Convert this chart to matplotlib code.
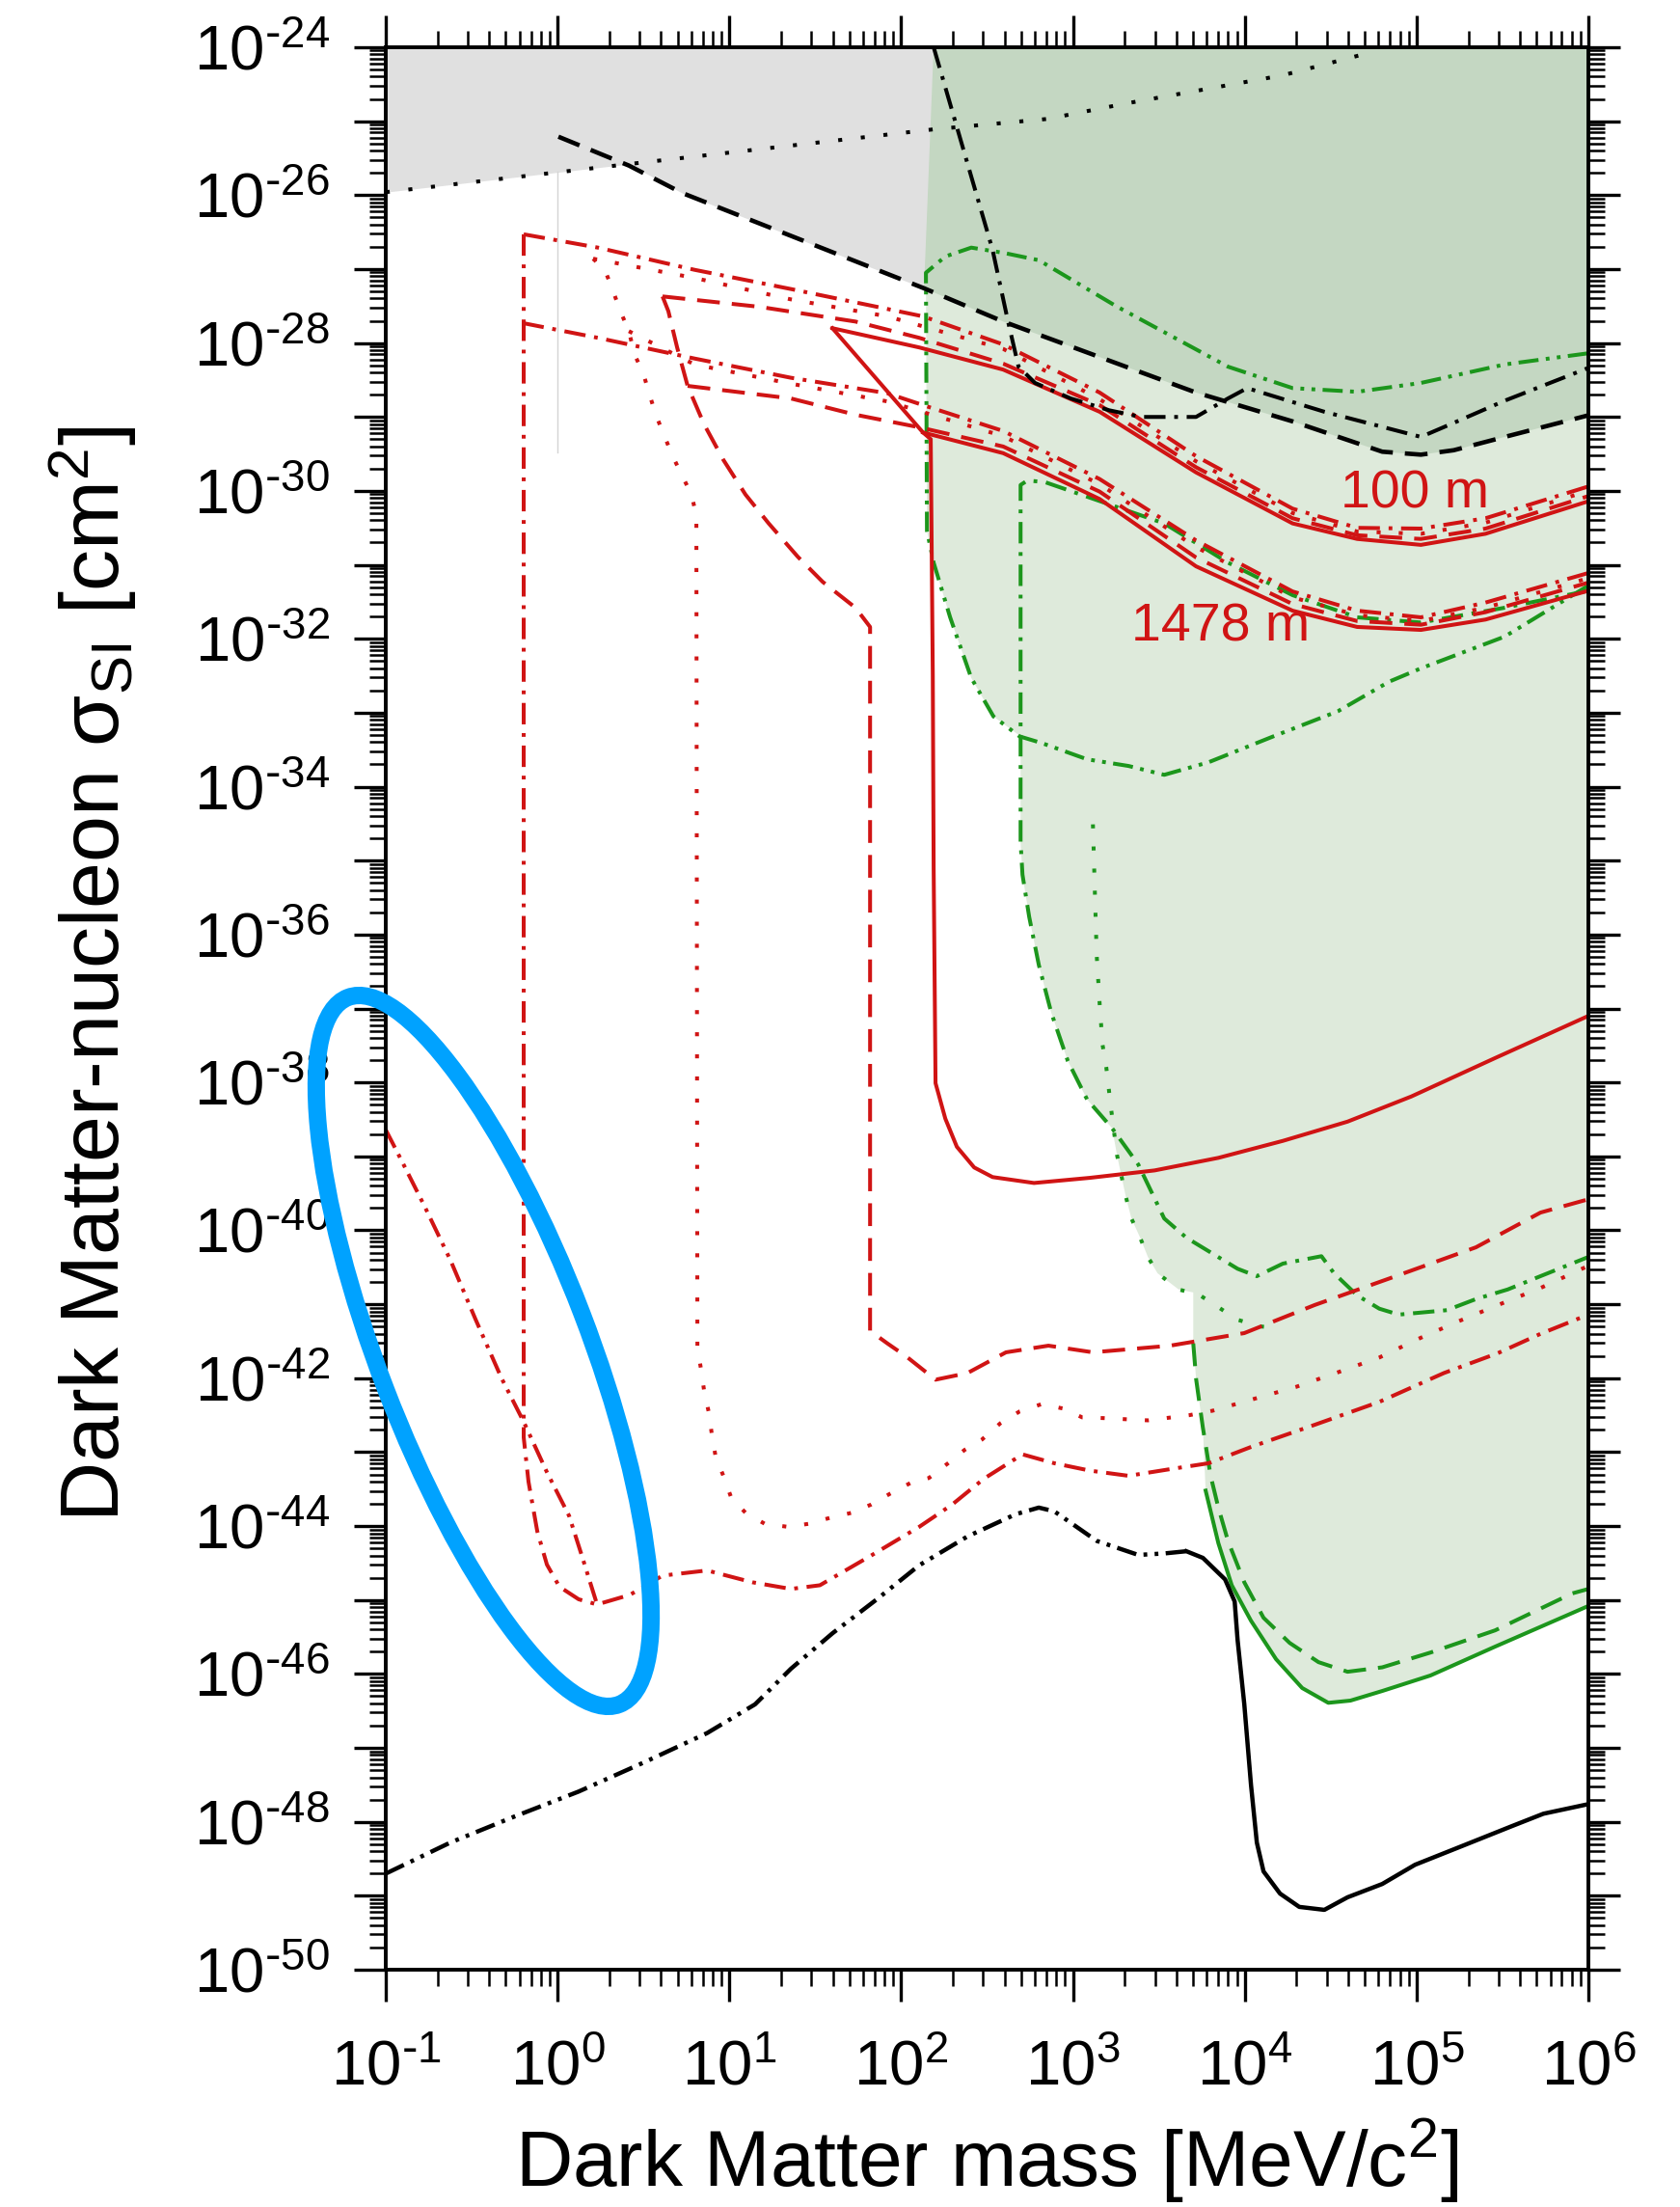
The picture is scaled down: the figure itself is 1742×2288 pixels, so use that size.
import numpy as np
import matplotlib
matplotlib.use("Agg")
import matplotlib.pyplot as plt
from matplotlib.patches import Ellipse
from matplotlib.ticker import FixedLocator, FuncFormatter, NullFormatter

plt.rcParams["font.family"] = ["Liberation Sans", "DejaVu Sans"]
plt.rcParams["mathtext.default"] = "regular"
plt.rcParams["lines.scale_dashes"] = False

RED = "#d01414"
GREEN = "#1c961c"

# all curves as log10(mass / MeV) and log10(sigma / cm^2)
# --- black lines ---
b_dot_m = [-1.0, 0.415, 2.19, 2.85, 3.31, 4.22, 4.70]
b_dot_s = [-25.96, -25.58, -25.11, -24.97, -24.76, -24.38, -24.09]

b_dash_m = [0.005, 0.415, 0.724, 2.133, 2.594, 3.155, 3.716, 4.278, 4.800, 5.025, 5.216, 5.513, 5.996]
b_dash_s = [-25.21, -25.60, -25.97, -27.26, -27.71, -28.19, -28.67, -29.06, -29.47, -29.51, -29.45, -29.27, -28.98]

b_dashdot_m = [2.189, 2.532, 2.622, 2.683, 2.779, 2.987, 3.211, 3.396, 3.716, 3.902, 4.014, 4.463, 5.025, 5.216, 5.513, 5.996]
b_dashdot_s = [-24.0, -26.74, -27.71, -28.32, -28.54, -28.75, -28.91, -29.0, -29.0, -28.75, -28.61, -28.93, -29.27, -29.08, -28.78, -28.34]

b_dd_m = [-1.0, -0.624, -0.253, 0.123, 0.499, 0.870, 1.150, 1.358, 1.600, 1.864, 2.105, 2.386,
          2.666, 2.801, 2.891, 3.138, 3.380, 3.531, 3.660]
b_dd_s = [-48.70, -48.28, -47.93, -47.59, -47.20, -46.80, -46.41, -45.93, -45.45, -44.98, -44.53, -44.14,
          -43.84, -43.75, -43.80, -44.20, -44.39, -44.37, -44.34]

b_solid_m = [3.660, 3.756, 3.885, 3.941, 3.958, 3.997, 4.036, 4.070, 4.109, 4.205, 4.317, 4.463,
             4.598, 4.800, 4.991, 5.272, 5.552, 5.738, 6.0]
b_solid_s = [-44.34, -44.43, -44.72, -45.02, -45.54, -46.41, -47.50, -48.28, -48.67, -48.97, -49.15, -49.19,
             -49.02, -48.84, -48.58, -48.32, -48.06, -47.89, -47.76]

# --- green lines ---
g_dd_m = [5.996, 5.513, 5.025, 4.654, 4.278, 3.902, 3.250, 2.801, 2.594, 2.408, 2.257, 2.144, 2.150, 2.189,
          2.285, 2.408, 2.537, 2.689, 2.818, 3.082, 3.323, 3.531, 3.789, 4.166, 4.542, 4.840, 5.025, 5.513, 6.0]
g_dd_s = [-28.14, -28.29, -28.54, -28.66, -28.61, -28.32, -27.50, -26.88, -26.78, -26.71, -26.83, -27.05, -30.54, -30.97,
          -31.71, -32.53, -33.05, -33.32, -33.41, -33.63, -33.72, -33.84, -33.67, -33.32, -32.98, -32.58, -32.40, -31.97, -31.28]

g_dashdot_m = [6.0, 5.513, 5.025, 4.654, 4.278, 3.902, 3.531, 2.835, 2.734, 2.695, 2.695, 2.706, 2.745, 2.801,
               2.874, 2.970, 3.082, 3.228, 3.380, 3.531, 3.660, 3.958, 4.070, 4.222, 4.446, 4.519, 4.654, 4.783,
               4.896, 5.176, 5.345, 5.530, 5.721, 6.0]
g_dashdot_s = [-31.35, -31.58, -31.78, -31.71, -31.41, -30.97, -30.44, -29.88, -29.86, -29.92, -34.75, -35.19, -35.76, -36.41,
               -37.06, -37.71, -38.23, -38.62, -39.11, -39.84, -40.10, -40.52, -40.62, -40.45, -40.35, -40.58, -40.88, -41.06,
               -41.14, -41.08, -40.93, -40.80, -40.62, -40.36]

g_dot_m = [3.116, 3.127, 3.138, 3.155, 3.172, 3.194, 3.222, 3.256, 3.307, 3.340, 3.391, 3.436, 3.492, 3.615,
           3.733, 3.846, 3.958, 4.093, 4.211]
g_dot_s = [-34.51, -35.40, -36.28, -36.93, -37.49, -37.80, -38.36, -38.98, -39.54, -39.84, -40.10, -40.36, -40.58, -40.80,
           -40.87, -41.04, -41.21, -41.30, -41.33]

g_dash_m = [3.700, 3.717, 3.756, 3.801, 3.846, 3.902, 3.997, 4.109, 4.261, 4.429, 4.598, 4.800, 5.081, 5.457, 5.906, 6.0]
g_dash_s = [-41.53, -42.02, -42.67, -43.32, -43.75, -44.20, -44.76, -45.24, -45.58, -45.84, -45.97, -45.91, -45.71, -45.41, -44.91, -44.85]

g_solid_m = [3.772, 3.846, 3.924, 4.036, 4.182, 4.334, 4.486, 4.615, 4.800, 5.081, 5.457, 6.0]
g_solid_s = [-43.52, -44.23, -44.80, -45.28, -45.80, -46.19, -46.39, -46.36, -46.23, -46.02, -45.63, -45.08]

# excluded region (green) outline
gfill_m = [2.189, 6.0, 6.0, 5.457, 5.081, 4.800, 4.615, 4.486, 4.334, 4.182, 4.036, 3.924, 3.846, 3.772,
           3.756, 3.717, 3.700, 3.700, 3.615, 3.492, 3.436, 3.391, 3.340, 3.307, 3.256, 3.228,
           3.082, 2.970, 2.874, 2.801, 2.745, 2.706, 2.695, 2.695, 2.537, 2.408, 2.285, 2.189, 2.150, 2.144]
gfill_s = [-24.0, -24.0, -45.08, -45.63, -46.02, -46.23, -46.36, -46.39, -46.19, -45.80, -45.28, -44.80, -44.23, -43.52,
           -42.67, -42.02, -41.53, -40.84, -40.80, -40.58, -40.36, -40.10, -39.84, -39.54, -38.98, -38.62,
           -38.23, -37.71, -37.06, -36.41, -35.76, -35.19, -34.75, -33.32, -33.05, -32.53, -31.71, -30.97, -30.54, -27.05]

# --- red lines: the two overburden bundles (100 m upper, 1478 m lower) ---
bundle_right_m = [3.155, 3.716, 4.278, 4.654, 5.025, 5.401, 6.0]

r100_solid_m = [1.600, 2.105, 2.594] + bundle_right_m
r100_solid_s = [-27.80, -28.06, -28.36, -28.93, -29.75, -30.44, -30.65, -30.73, -30.58, -30.14]
r100_dashdot_m = [-0.197, 0.235, 0.797, 1.358, 1.920, 2.127, 2.594] + bundle_right_m
r100_dashdot_s = [-26.53, -26.71, -27.01, -27.27, -27.54, -27.64, -28.02, -28.67, -29.53, -30.24, -30.50, -30.51, -30.37, -29.94]
r100_dot_m = [0.207, 0.797, 1.358, 1.920, 2.594] + bundle_right_m
r100_dot_s = [-26.86, -27.12, -27.41, -27.64, -28.08, -28.76, -29.60, -30.30, -30.55, -30.58, -30.43, -30.0]
r100_dash_m = [0.611, 1.173, 1.734, 2.105, 2.594] + bundle_right_m
r100_dash_s = [-27.37, -27.51, -27.71, -27.93, -28.28, -28.84, -29.68, -30.37, -30.60, -30.65, -30.51, -30.07]

r1478_solid_m = [2.127, 2.594] + bundle_right_m
r1478_solid_s = [-29.21, -29.49, -30.11, -31.02, -31.62, -31.84, -31.88, -31.74, -31.35]
r1478_dashdot_m = [-0.203, 0.235, 0.797, 1.358, 1.920, 2.127, 2.594] + bundle_right_m
r1478_dashdot_s = [-27.73, -27.93, -28.21, -28.47, -28.68, -28.84, -29.19, -29.84, -30.67, -31.36, -31.62, -31.71, -31.51, -31.11]
r1478_dot_m = [0.415, 0.797, 1.358, 1.920, 2.594] + bundle_right_m
r1478_dot_s = [-27.84, -28.29, -28.55, -28.79, -29.26, -29.91, -30.76, -31.44, -31.68, -31.76, -31.58, -31.18]
r1478_dash_m = [0.757, 1.358, 1.734, 2.105, 2.594] + bundle_right_m
r1478_dash_s = [-28.58, -28.75, -28.97, -29.14, -29.40, -30.01, -30.90, -31.53, -31.76, -31.81, -31.64, -31.24]

# --- red lines: surface reach (low cross sections) ---
r_solid_low_m = [1.600, 2.127, 2.172, 2.184, 2.189, 2.200, 2.257, 2.324, 2.425, 2.532, 2.773, 3.099,
                 3.475, 3.846, 4.222, 4.598, 4.969, 5.457, 6.0]
r_solid_low_s = [-27.80, -29.21, -29.30, -32.49, -35.10, -38.01, -38.49, -38.87, -39.15, -39.28, -39.36, -39.29,
                 -39.19, -39.02, -38.79, -38.53, -38.19, -37.67, -37.10]

r_dash_low_m = [0.611, 0.645, 0.696, 0.757, 0.853, 0.965, 1.094, 1.229, 1.398, 1.543, 1.734, 1.819, 1.819,
                1.920, 2.032, 2.200, 2.386, 2.610, 2.857, 3.116, 3.565, 3.997, 4.407, 4.879, 5.345, 5.721, 6.0]
r_dash_low_s = [-27.37, -27.57, -28.06, -28.58, -29.10, -29.58, -30.05, -30.44, -30.89, -31.23, -31.58, -31.84, -41.36,
                -41.53, -41.71, -42.02, -41.93, -41.65, -41.56, -41.65, -41.56, -41.39, -41.01, -40.62, -40.23, -39.76, -39.58]

r_dot_low_m = [0.207, 0.275, 0.319, 0.364, 0.415, 0.449, 0.499, 0.533, 0.572, 0.617, 0.668, 0.724, 0.780, 0.808,
               0.814, 0.836, 0.853, 0.881, 0.898, 0.920, 0.965, 1.010, 1.094, 1.207, 1.341, 1.459, 1.583, 1.712,
               1.824, 1.937, 2.060, 2.161, 2.273, 2.369, 2.470, 2.577, 2.689, 2.818, 2.942, 3.054, 3.183, 3.436,
               3.677, 3.812, 4.053, 4.295, 4.542, 4.783, 5.008, 5.244, 5.474, 5.721, 6.0]
r_dot_low_s = [-26.86, -27.01, -27.27, -27.56, -27.84, -28.16, -28.41, -28.68, -28.97, -29.23, -29.52, -29.79, -30.05, -30.34,
               -41.59, -41.89, -42.17, -42.47, -42.76, -43.06, -43.32, -43.61, -43.82, -43.97, -44.01, -43.97, -43.89, -43.82,
               -43.71, -43.56, -43.41, -43.35, -43.15, -42.97, -42.83, -42.61, -42.45, -42.35, -42.41, -42.53, -42.54, -42.57,
               -42.50, -42.44, -42.28, -42.12, -41.92, -41.72, -41.47, -41.23, -41.01, -40.78, -40.48]

r_dashdot_low_m = [-0.197, -0.197, -0.169, -0.118, -0.062, 0.011, 0.123, 0.230, 0.421, 0.611, 0.870, 1.134, 1.358,
                   1.527, 1.824, 2.105, 2.296, 2.481, 2.706, 2.891, 3.099, 3.323, 3.565, 3.789, 4.036, 4.407,
                   4.783, 5.159, 5.474, 5.721, 6.0]
r_dashdot_low_s = [-26.53, -42.80, -43.40, -44.07, -44.52, -44.82, -44.99, -45.06, -44.93, -44.67, -44.60, -44.76, -44.85,
                   -44.80, -44.40, -44.01, -43.71, -43.36, -43.03, -43.15, -43.25, -43.32, -43.23, -43.15, -42.93, -42.63,
                   -42.32, -41.93, -41.66, -41.40, -41.14]

r_dd_low_m = [-1.0, -0.905, -0.775, -0.624, -0.478, -0.326, -0.197, -0.062, 0.067, 0.140, 0.230]
r_dd_low_s = [-38.64, -39.07, -39.67, -40.40, -41.20, -42.00, -42.59, -43.27, -43.86, -44.39, -45.06]

gray_mark_m = [0.0, 0.0]
gray_mark_s = [-25.68, -29.48]

labels = ["100 m", "1478 m"]
label_m = [4.99, 3.857]
label_s = [-30.05, -31.85]

# line styles (points, unscaled)
DASH = (0, (17, 9))
DOT = (0, (3.0, 13.5))
DASHDOT = (0, (16, 6.5, 2.8, 6.5))
DASHDOTDOT = (0, (15, 5.5, 2.8, 5.5, 2.8, 5.5))
BDASH = (0, (17, 9))
BDOT = (0, (3.0, 14))


def P(m, s):
    return 10.0 ** np.asarray(m), 10.0 ** np.asarray(s)


fig = plt.figure(figsize=(17.42, 22.88), dpi=100)
ax = fig.add_axes([0.2296, 0.1075, 0.7159, 0.8711])
ax.set_xscale("log")
ax.set_yscale("log")
ax.set_xlim(1e-1, 1e6)
ax.set_ylim(1e-50, 1e-24)

# shaded regions
gray_m = b_dot_m[:2] + b_dash_m[2:]
gray_s = b_dot_s[:2] + b_dash_s[2:]
gx, gy = P(gray_m, gray_s)
ax.fill_between(gx, gy, 1e-24, color="#e0e0e0", lw=0, zorder=1)
fx, fy = P(gfill_m, gfill_s)
ax.fill(fx, fy, color="#deeadb", lw=0, zorder=1.1)
dk_m = [gfill_m[0]] + b_dash_m[3:] + [gfill_m[1]]
dk_s = [gfill_s[0]] + b_dash_s[3:] + [gfill_s[1]]
dx, dy = P(dk_m, dk_s)
ax.fill(dx, dy, color="#c4d7c2", lw=0, zorder=1.2)

ax.plot(*P(gray_mark_m, gray_mark_s), color="#d4d4d4", lw=1.0, zorder=1.3)

lw = 2.9
# black
ax.plot(*P(b_dot_m, b_dot_s), color="black", lw=lw, ls=BDOT, zorder=3)
ax.plot(*P(b_dash_m, b_dash_s), color="black", lw=lw + 0.4, ls=BDASH, zorder=3)
ax.plot(*P(b_dashdot_m, b_dashdot_s), color="black", lw=lw, ls=DASHDOT, zorder=3)
ax.plot(*P(b_dd_m, b_dd_s), color="black", lw=lw + 0.3, ls=DASHDOTDOT, zorder=3)
ax.plot(*P(b_solid_m, b_solid_s), color="black", lw=lw + 0.3, ls="-", zorder=3)

# green
ax.plot(*P(g_dd_m, g_dd_s), color=GREEN, lw=lw, ls=DASHDOTDOT, zorder=2.5)
ax.plot(*P(g_dashdot_m, g_dashdot_s), color=GREEN, lw=lw, ls=DASHDOT, zorder=2.5)
ax.plot(*P(g_dot_m, g_dot_s), color=GREEN, lw=lw, ls=DOT, zorder=2.5)
ax.plot(*P(g_dash_m, g_dash_s), color=GREEN, lw=lw, ls=DASH, zorder=2.5)
ax.plot(*P(g_solid_m, g_solid_s), color=GREEN, lw=lw, ls="-", zorder=2.5)

# red
for m, s, st in [
    (r100_solid_m, r100_solid_s, "-"), (r100_dashdot_m, r100_dashdot_s, DASHDOT),
    (r100_dot_m, r100_dot_s, DOT), (r100_dash_m, r100_dash_s, DASH),
    (r1478_solid_m, r1478_solid_s, "-"), (r1478_dashdot_m, r1478_dashdot_s, DASHDOT),
    (r1478_dot_m, r1478_dot_s, DOT), (r1478_dash_m, r1478_dash_s, DASH),
    (r_solid_low_m, r_solid_low_s, "-"), (r_dash_low_m, r_dash_low_s, DASH),
    (r_dot_low_m, r_dot_low_s, DOT), (r_dashdot_low_m, r_dashdot_low_s, DASHDOT),
    (r_dd_low_m, r_dd_low_s, DASHDOTDOT),
]:
    ax.plot(*P(m, s), color=RED, lw=lw, ls=st, zorder=2.8)

for t, m, s in zip(labels, label_m, label_s):
    ax.text(10 ** m, 10 ** s, t, color=RED, fontsize=40, ha="center", va="center", zorder=4)

# axes, ticks
for sp in ax.spines.values():
    sp.set_linewidth(2.8)
    sp.set_zorder(5)


def exp_label(v, pos):
    e = int(round(np.log10(v)))
    if e < 0:
        return r"$10^{\text{-}%d}$" % (-e)
    return r"$10^{%d}$" % e


def y_label(v, pos):
    e = int(round(np.log10(v)))
    return exp_label(v, pos) if e % 2 == 0 else ""


ax.xaxis.set_major_locator(FixedLocator(10.0 ** np.arange(-1, 7)))
ax.xaxis.set_minor_locator(FixedLocator([k * 10.0 ** d for d in range(-1, 6) for k in range(2, 10)]))
ax.yaxis.set_major_locator(FixedLocator(10.0 ** np.arange(-50, -23)))
ax.yaxis.set_minor_locator(FixedLocator([k * 10.0 ** d for d in range(-50, -24) for k in range(2, 10)]))
ax.xaxis.set_major_formatter(FuncFormatter(exp_label))
ax.yaxis.set_major_formatter(FuncFormatter(y_label))
ax.xaxis.set_minor_formatter(NullFormatter())
ax.yaxis.set_minor_formatter(NullFormatter())

ax.tick_params(which="both", direction="out", top=True, right=True, labelsize=47)
ax.tick_params(which="major", length=24, width=2.4)
ax.tick_params(which="minor", length=12, width=1.8)
ax.tick_params(axis="x", which="major", pad=28)
ax.tick_params(axis="y", which="major", pad=18)

fig.text(0.5875, 0.0092, "Dark Matter mass [MeV/c$^{2}$]", fontsize=59, ha="center", va="baseline")
fig.text(0.055, 0.5586, r"Dark Matter-nucleon σ$_{SI}$ [cm$^{2}$]", fontsize=62,
         ha="center", va="center", rotation=90)

# highlight ellipse (figure inches)
ell = Ellipse((5.015, 8.875), 7.85, 2.18, angle=-69.0, fill=False, edgecolor="#00a2ff",
              lw=13, transform=fig.dpi_scale_trans, zorder=10)
fig.patches.append(ell)

fig.savefig("out.png", dpi=100)
